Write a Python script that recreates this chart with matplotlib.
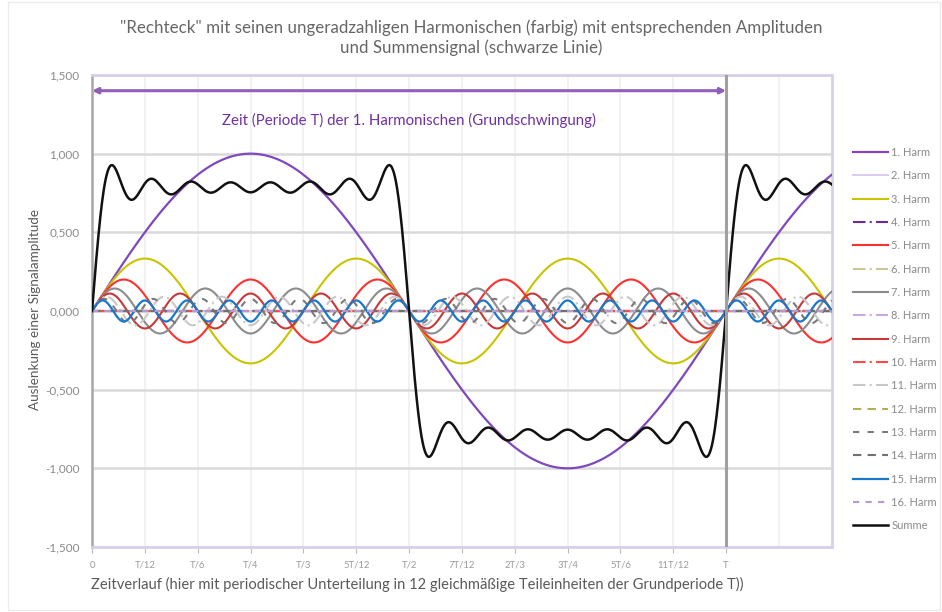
import numpy as np
import matplotlib
matplotlib.use("Agg")
import matplotlib.pyplot as plt
from matplotlib.patches import Rectangle

plt.rcParams['font.family'] = ['Lato', 'DejaVu Sans']

# ---- data ----
harmonic_numbers = [1, 2, 3, 4, 5, 6, 7, 8, 9, 10, 11, 12, 13, 14, 15, 16]
amplitudes = [1.000, 0.000, 0.333, 0.000, 0.200, 0.000, 0.143, 0.000,
              0.111, 0.000, 0.091, 0.000, 0.077, 0.000, 0.067, 0.000]
series_labels = ["1. Harm", "2. Harm", "3. Harm", "4. Harm", "5. Harm", "6. Harm",
                 "7. Harm", "8. Harm", "9. Harm", "10. Harm", "11. Harm", "12. Harm",
                 "13. Harm", "14. Harm", "15. Harm", "16. Harm"]
sum_label = "Summe"
x_tick_positions = [0, 1/12, 2/12, 3/12, 4/12, 5/12, 6/12, 7/12, 8/12, 9/12, 10/12, 11/12, 1]
x_tick_labels = ["0", "T/12", "T/6", "T/4", "T/3", "5T/12", "T/2", "7T/12",
                 "2T/3", "3T/4", "5T/6", "11T/12", "T"]
y_ticks = [-1.5, -1.0, -0.5, 0.0, 0.5, 1.0, 1.5]
y_tick_labels = ["-1,500", "-1,000", "-0,500", "0,000", "0,500", "1,000", "1,500"]
x_end = 14 / 12

# ---- styles ----
colors = ["#8048bc", "#dccbf0", "#c8c400", "#6a2aa0", "#ff3030", "#c8c890",
          "#8c8c8c", "#c8a8e0", "#c83838", "#ff4848", "#c8c8c8", "#b0b050",
          "#7a7a7a", "#707070", "#1a78c8", "#b898d0"]
styles = ["-", "-", "-", (0, (6, 2, 1, 2)), "-", (0, (6, 2, 1, 2)), "-", (0, (6, 2, 1, 2)),
          "-", (0, (6, 2, 1, 2)), (0, (6, 2, 1, 2)), (0, (4, 3)), (0, (3, 4)), (0, (4, 3)),
          "-", (0, (3, 3))]
widths = [1.6, 1.4, 1.5, 1.5, 1.5, 1.5, 1.5, 1.5, 1.5, 1.5, 1.5, 1.5, 1.5, 1.5, 1.6, 1.5]

fig = plt.figure(figsize=(9.42, 6.12), dpi=100)
fig.patches.append(Rectangle((0.008, 0.004), 0.99, 0.992, transform=fig.transFigure,
                             fill=False, edgecolor="#ececec", linewidth=1))
ax = fig.add_axes([0.0977, 0.1062, 0.7853, 0.7713])

t = np.linspace(0, x_end, 1400)
total = np.zeros_like(t)
handles = []
for n, a, lab, c, ls, lw in zip(harmonic_numbers, amplitudes, series_labels, colors, styles, widths):
    y = a * np.sin(2 * np.pi * n * t)
    total += y
    h, = ax.plot(t, y, color=c, linestyle=ls, linewidth=lw, label=lab, zorder=3)
    handles.append(h)
hs, = ax.plot(t, total, color="#111111", linewidth=1.8, label=sum_label, zorder=4)
handles.append(hs)

ax.set_xlim(0, x_end)
ax.set_ylim(-1.5, 1.5)
ax.set_yticks(y_ticks)
ax.set_yticklabels(y_tick_labels, fontsize=8.5, color="#8a8a8a")
ax.set_xticks(x_tick_positions)
ax.set_xticklabels(x_tick_labels, fontsize=6.8, color="#9a9a9a")
ax.set_xticks([13/12], minor=True)
ax.tick_params(axis="y", length=0, pad=9)
ax.tick_params(axis="x", length=4, color="#bbbbbb", pad=6)
ax.tick_params(axis="x", which="minor", length=0)

ax.grid(axis="y", color="#d9d9d9", linewidth=1.8, zorder=0)
ax.grid(axis="x", which="both", color="#f0f0f0", linewidth=1.2, zorder=0)
ax.set_axisbelow(True)

for side in ["top", "bottom", "right"]:
    ax.spines[side].set_color("#d8d0e6")
    ax.spines[side].set_linewidth(2)
    ax.spines[side].set_linestyle((0, (2, 1)))
ax.spines["left"].set_color("#a6a6a6")
ax.spines["left"].set_linewidth(1.8)

ax.axvline(1.0, color="#a0a0a0", linewidth=2.2, zorder=5)

ax.annotate("", xy=(0.0, 1.40), xytext=(1.0, 1.40),
            arrowprops=dict(arrowstyle="<|-|>", color="#9060b8", lw=2.2,
                            mutation_scale=8, shrinkA=0, shrinkB=0))
ax.text(0.5, 1.21, "Zeit (Periode T) der 1. Harmonischen (Grundschwingung)",
        ha="center", va="center", fontsize=10.8, color="#7030a0")

fig.text(0.5, 0.955, "\"Rechteck\" mit seinen ungeradzahligen Harmonischen (farbig) mit entsprechenden Amplituden",
         ha="center", va="center", fontsize=12.2, color="#666666")
fig.text(0.5, 0.922, "und Summensignal (schwarze Linie)",
         ha="center", va="center", fontsize=12.2, color="#666666")

fig.text(0.037, 0.495, "Auslenkung einer Signalamplitude", rotation=90,
         ha="center", va="center", fontsize=9.7, color="#595959")
fig.text(0.0965, 0.045, "Zeitverlauf (hier mit periodischer Unterteilung in 12 gleichmäßige Teileinheiten der Grundperiode T))",
         ha="left", va="center", fontsize=10.6, color="#595959")

fig.legend(handles=handles, labels=[h.get_label() for h in handles],
           loc="upper left", bbox_to_anchor=(0.906, 0.760), frameon=False,
           fontsize=8, labelcolor="#8a8a8a", handlelength=3.1, handletextpad=0.3,
           labelspacing=1.11, borderaxespad=0, borderpad=0)

fig.savefig("out.png", dpi=100)
